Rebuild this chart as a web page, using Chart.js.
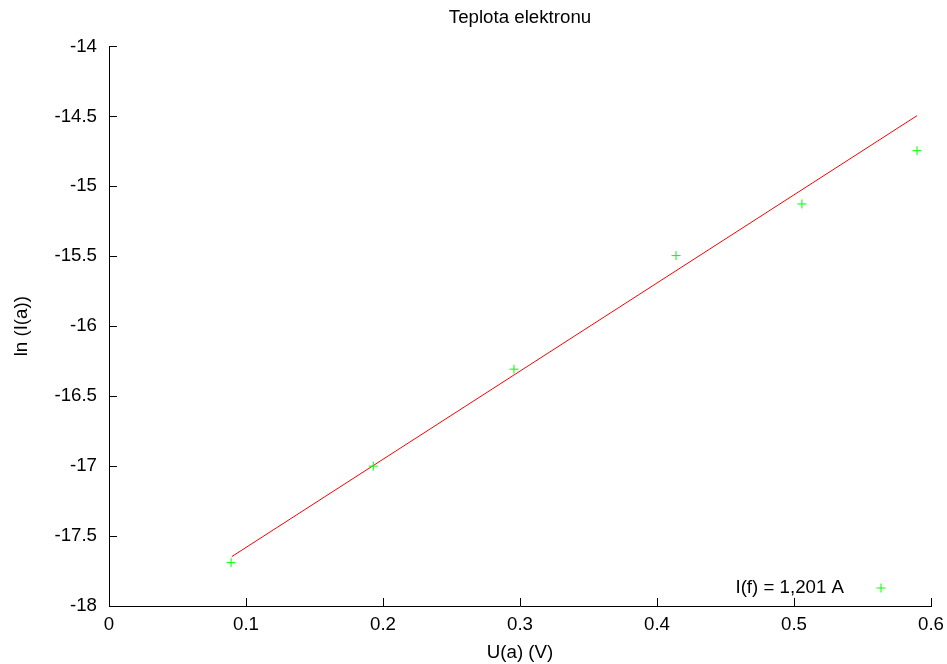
<!DOCTYPE html>
<html>
<head>
<meta charset="utf-8">
<title>Teplota elektronu</title>
<script src="https://cdn.jsdelivr.net/npm/chart.js@4"></script>
<style>
  html, body { margin: 0; padding: 0; background: #fff; }
  #wrap { width: 947px; height: 664px; }
</style>
</head>
<body>
<div id="wrap"><canvas id="chart" width="947" height="664"></canvas></div>
<script>
// data
const uA     = [0.0891, 0.1929, 0.2956, 0.4139, 0.5058, 0.5898];
const lnIa   = [-17.69, -17.00, -16.307, -15.495, -15.126, -14.745];
const fitU   = [0.0896, 0.5898];
const fitLn  = [-17.647, -14.495];
const seriesLabel = 'I(f) = 1,201 A';

const FONT = "'Liberation Sans', Arial, Helvetica, sans-serif";
const FS   = 18.7;

// gnuplot-style ticks pointing inward
const innerTicks = {
  id: 'innerTicks',
  afterDraw(chart) {
    const { ctx, chartArea: a, scales } = chart;
    const len = 8;
    ctx.save();
    ctx.strokeStyle = '#000';
    ctx.lineWidth = 1;
    ctx.beginPath();
    scales.x.ticks.forEach(t => {
      const px = Math.round(scales.x.getPixelForValue(t.value)) + 0.5;
      ctx.moveTo(px, a.bottom); ctx.lineTo(px, a.bottom - len);
    });
    scales.y.ticks.forEach(t => {
      const py = Math.round(scales.y.getPixelForValue(t.value)) + 0.5;
      ctx.moveTo(a.left, py); ctx.lineTo(a.left + len, py);
    });
    ctx.stroke();
    ctx.restore();
  }
};

// key drawn inside the plot, bottom right (text then symbol)
const innerKey = {
  id: 'innerKey',
  afterDraw(chart) {
    const { ctx, chartArea: a } = chart;
    const ds = chart.data.datasets[0];
    const y = a.bottom - 18;
    ctx.save();
    ctx.font = `${FS}px ${FONT}`;
    ctx.fillStyle = '#000';
    ctx.textAlign = 'right';
    ctx.textBaseline = 'middle';
    ctx.fillText(ds.label, a.right - 87, y);
    ctx.strokeStyle = ds.borderColor;
    ctx.lineWidth = 1;
    Chart.helpers.drawPoint(ctx, { pointStyle: 'cross', radius: 4.5, borderWidth: 1 }, a.right - 50, y);
    ctx.restore();
  }
};

new Chart(document.getElementById('chart'), {
  type: 'scatter',
  data: {
    datasets: [
      {
        label: seriesLabel,
        data: uA.map((u, i) => ({ x: u, y: lnIa[i] })),
        pointStyle: 'cross',
        pointRadius: 4.5,
        pointBorderWidth: 1,
        borderColor: '#00ff00',
        backgroundColor: '#00ff00',
        showLine: false,
      },
      {
        label: 'fit',
        data: fitU.map((u, i) => ({ x: u, y: fitLn[i] })),
        showLine: true,
        borderColor: '#ff0000',
        borderWidth: 1,
        pointRadius: 0,
        fill: false,
      }
    ]
  },
  options: {
    responsive: false,
    animation: false,
    layout: { padding: { left: 0, right: 16, top: 0, bottom: 0 } },
    plugins: {
      legend: { display: false },
      tooltip: { enabled: false },
      title: {
        display: true,
        fullSize: false,
        text: 'Teplota elektronu',
        color: '#000',
        font: { family: FONT, size: FS, weight: 'normal' },
        padding: { top: 7, bottom: 17 }
      }
    },
    scales: {
      x: {
        type: 'linear',
        min: 0, max: 0.6,
        grid: { display: false, drawTicks: false },
        border: { display: true, color: '#000', width: 1 },
        ticks: {
          stepSize: 0.1, padding: 8, color: '#000', maxRotation: 0,
          font: { family: FONT, size: FS },
          callback: v => String(Math.round(v * 10) / 10)
        },
        title: {
          display: true, text: 'U(a) (V)', color: '#000',
          font: { family: FONT, size: FS },
          padding: { top: 3, bottom: 0 }
        },
        afterFit: s => { s.height = 58; s.paddingLeft = 0; s.paddingRight = 0; }
      },
      y: {
        type: 'linear',
        min: -18, max: -14,
        grid: { display: false, drawTicks: false },
        border: { display: true, color: '#000', width: 1 },
        ticks: {
          stepSize: 0.5, padding: 12, color: '#000',
          font: { family: FONT, size: FS },
          callback: v => String(Math.round(v * 10) / 10)
        },
        title: {
          display: true, text: 'ln (I(a))', color: '#000',
          font: { family: FONT, size: FS },
          padding: { top: 11, bottom: 0 }
        },
        afterFit: s => { s.width = 109; s.paddingTop = 0; s.paddingBottom = 0; }
      }
    }
  },
  plugins: [innerTicks, innerKey]
});
</script>
</body>
</html>
